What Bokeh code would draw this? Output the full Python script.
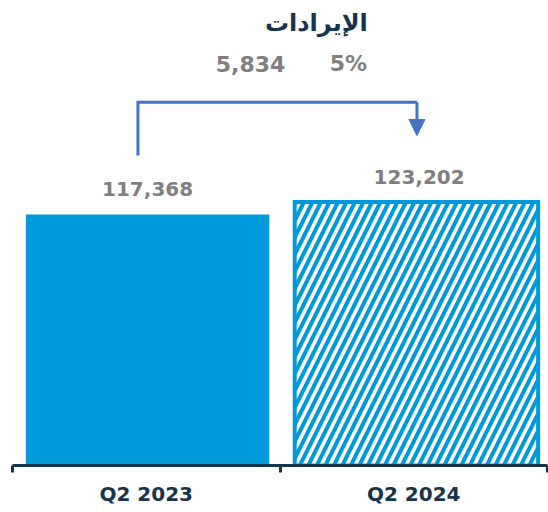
from bokeh.plotting import figure
from bokeh.models import Range1d, FixedTicker, Arrow, NormalHead
from bokeh.core.properties import value
from bokeh.embed import file_html
from bokeh.resources import INLINE

# ---- data ----
categories = ["Q2 2023", "Q2 2024"]
revenues = [117368, 123202]
value_labels = ["117,368", "123,202"]
change_labels = ["5,834", "5%"]
title_text = "الإيرادات"

# ---- styles ----
BLUE = "#009ADA"
NAVY = "#16354D"
GRAY = "#7F7F7F"
ARROW_C = "#4472C4"
FONT = "DejaVu Sans"

xs = [0.5, 1.5]
tick_labels = {x: c for x, c in zip(xs, categories)}

p = figure(width=548, height=512, x_range=Range1d(0, 2), y_range=Range1d(0, 217400),
           output_backend="svg", toolbar_location=None, y_axis_location=None,
           min_border_left=12, min_border_right=1, min_border_top=0, min_border_bottom=47)
p.outline_line_color = None
p.xgrid.visible = False
p.ygrid.visible = False
p.background_fill_color = "white"

# bars
p.vbar(x=[xs[0] + 0.005], top=[revenues[0]], width=0.91, fill_color=BLUE, line_color=None)
p.vbar(x=[xs[1] + 0.01], top=[revenues[1]], width=0.91, fill_color="white",
       line_color=BLUE, line_width=4, line_join="miter",
       hatch_pattern="/", hatch_color=BLUE, hatch_scale=17, hatch_weight=4)

# value labels
p.text(x=[xs[0] + 0.005, xs[1] + 0.02], y=revenues, text=value_labels, y_offset=-25,
       text_align="center", text_baseline="middle",
       text_font=value(FONT), text_font_style="bold", text_font_size="20px",
       text_color=GRAY)

# change bracket arrow (positions derived from the bar values)
top_val = max(revenues)
x_left = xs[0] - 0.031
x_right = xs[1] + 0.012
y_start = revenues[0] * 1.235
y_top = top_val * 1.378
y_tip = revenues[1] * 1.252
p.line(x=[x_left, x_left, x_right], y=[y_start, y_top, y_top],
       line_color=ARROW_C, line_width=3, line_join="miter")
p.add_layout(Arrow(end=NormalHead(size=16, fill_color=ARROW_C, line_color=ARROW_C, line_width=1),
                   x_start=x_right, y_start=y_top, x_end=x_right, y_end=y_tip,
                   line_color=ARROW_C, line_width=3))

# change labels
p.text(x=[0.89, 1.256], y=[y_top * 1.107] * 2, text=change_labels,
       text_align="center", text_baseline="middle",
       text_font=value(FONT), text_font_style="bold", text_font_size="22px",
       text_color=GRAY)

# title
p.text(x=[1.136], y=[top_val * 1.68], text=[title_text],
       text_align="center", text_baseline="middle",
       text_font=value(FONT), text_font_style="bold", text_font_size="24px",
       text_color=NAVY)

# x axis: labels at bar centres, ticks at category boundaries
ax = p.xaxis[0]
ax.ticker = FixedTicker(ticks=xs, minor_ticks=[0, 1, 2])
ax.major_label_overrides = tick_labels
ax.axis_line_color = NAVY
ax.axis_line_width = 3
ax.major_tick_line_color = None
ax.major_tick_out = 7
ax.major_tick_in = 0
ax.minor_tick_line_color = NAVY
ax.minor_tick_line_width = 3
ax.minor_tick_out = 7
ax.minor_tick_in = 0
ax.major_label_standoff = 9
ax.major_label_text_font = FONT
ax.major_label_text_font_style = "bold"
ax.major_label_text_font_size = "20px"
ax.major_label_text_color = NAVY

open("out.html", "w").write(file_html(p, INLINE))
